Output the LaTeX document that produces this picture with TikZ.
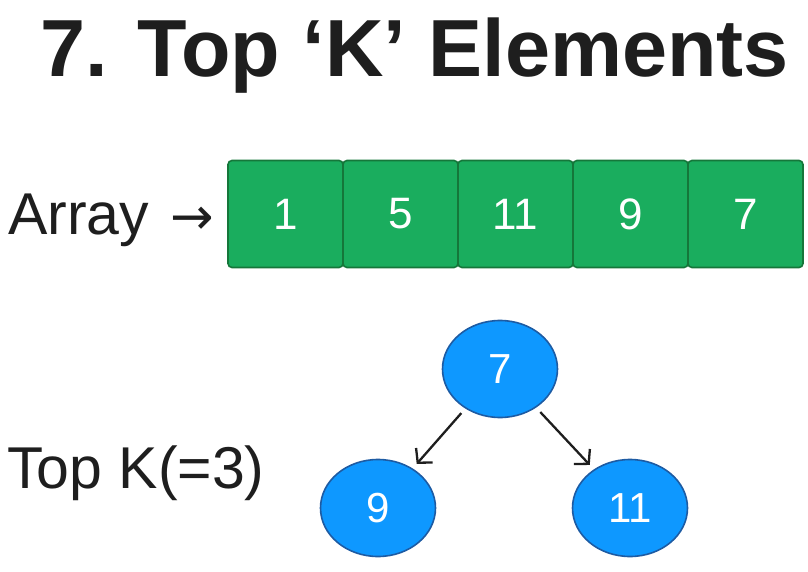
\documentclass[tikz,border=0pt]{standalone}
\usepackage{fontspec}
\setsansfont{Liberation Sans}
\newfontfamily\arrowfont{DejaVu Sans}
\usepackage{tikz}
\usetikzlibrary{arrows.meta,positioning,shapes.geometric}
\definecolor{topkgreen}{HTML}{1AAD5E}
\definecolor{topkgreenline}{HTML}{15773A}
\definecolor{topkblue}{HTML}{0E98FF}
\definecolor{topkblueline}{HTML}{1D5BA3}
\definecolor{topkink}{HTML}{1E1E1E}
\begin{document}
\begin{tikzpicture}[
  x=1pt,y=-1pt,
  font=\sffamily,
  cell/.style={draw=topkgreenline,fill=topkgreen,line width=1.6pt,rounded corners=4pt,minimum width=115pt,minimum height=107pt,inner sep=0pt,outer sep=0pt,text=white,font=\sffamily\fontsize{44}{44}\selectfont},
  heapnode/.style={ellipse,draw=topkblueline,fill=topkblue,line width=1.6pt,minimum width=115pt,minimum height=97pt,inner sep=0pt,text=white,font=\sffamily\fontsize{42}{42}\selectfont},
  arr/.style={-{Straight Barb[length=10pt,width=22pt]},line width=2.3pt,draw=topkink,shorten >=6pt,shorten <=6pt},
  lbl/.style={anchor=base west,text=topkink,inner sep=0pt,font=\sffamily\fontsize{59}{59}\selectfont}
]
\useasboundingbox (0,0) rectangle (808,572);

\node[anchor=base west,inner sep=0pt,text=topkink,font=\sffamily\bfseries\fontsize{81}{81}\selectfont] (title) at (40,77) {7. Top ‘K’ Elements};

\node[lbl] (arraylbl) at (8,234) {Array\hspace{21pt}{\arrowfont\fontsize{52}{52}\selectfont →}};
\node[cell] (c1) at (285.5,214) {1};
\node[cell,right=0pt of c1] (c2) {5};
\node[cell,right=0pt of c2] (c3) {11};
\node[cell,right=0pt of c3] (c4) {9};
\node[cell,right=0pt of c4] (c5) {7};

\node[lbl] (topklbl) at (7,488) {Top K(=3)};
\node[heapnode] (root) at (500,369) {7};
\node[heapnode] (left) at (378,508) {9};
\node[heapnode] (right) at (630,508) {11};

\draw[arr] (root) -- (left);
\draw[arr] (root) -- (right);
\end{tikzpicture}
\end{document}
